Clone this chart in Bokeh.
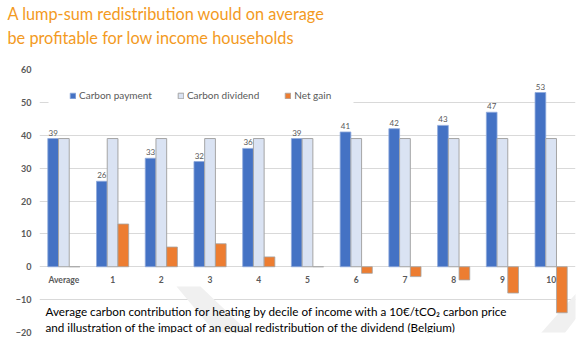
from bokeh.plotting import figure
from bokeh.models import (FactorRange, Range1d, FixedTicker, ColumnDataSource, Legend,
                          LegendItem, Label, PolyAnnotation, BoxAnnotation, Title)
from bokeh.transform import dodge
from bokeh.core.properties import value
from bokeh.embed import file_html
from bokeh.resources import INLINE

# ---- data ----
categories = ["Average", "1", "2", "3", "4", "5", "6", "7", "8", "9", "10"]
carbon_payment = [39, 26, 33, 32, 36, 39, 41, 42, 43, 47, 53]
carbon_dividend = [39, 39, 39, 39, 39, 39, 39, 39, 39, 39, 39]
net_gain = [0, 13, 6, 7, 3, 0, -2, -3, -4, -8, -14]
y_ticks = [-20, -10, 0, 10, 20, 30, 40, 50, 60]
series_names = ["Carbon payment", "Carbon dividend", "Net gain"]
title_lines = ["A lump-sum redistribution would on average",
               "be profitable for low income households"]
caption_lines = ["Average carbon contribution for heating by decile of income with a 10\u20ac/tCO\u2082 carbon price",
                 "and illustration of the impact of an equal redistribution of the dividend (Belgium)"]

FONT = "Lato"
TITLE_COLOR = "#F39A1E"

src = ColumnDataSource(dict(cat=categories, pay=carbon_payment, div=carbon_dividend,
                            net=net_gain, pay_lbl=[str(v) for v in carbon_payment]))

p = figure(width=580, height=341, x_range=FactorRange(*categories, range_padding=0),
           y_range=Range1d(-20, 60), output_backend="svg", toolbar_location=None,
           min_border_left=39, min_border_right=5, min_border_top=68, min_border_bottom=9)
p.outline_line_color = None
p.background_fill_color = "white"
p.border_fill_color = "white"

# title (two lines). "above" items stack outward from the frame; the main title goes outermost.
def title_line(text, standoff):
    return Title(text=text, align="left", offset=-32, standoff=standoff,
                 text_font=FONT, text_font_size="16.3px", text_font_style="normal",
                 text_line_height=1.0, text_color=TITLE_COLOR)

p.add_layout(Title(text=" ", text_font_size="1px", standoff=19), "above")  # spacer next to frame
p.add_layout(title_line(title_lines[1], 2), "above")
p.title = title_line(title_lines[0], 3)

# watermark stripes (background decoration)
p.add_layout(PolyAnnotation(xs=[176 - 39, 200 - 39, 258 - 39, 222 - 39],
                            ys=[332 - 286, 332 - 286, 332 - 341, 332 - 341],
                            xs_units="screen", ys_units="screen",
                            fill_color="#f0f0f0", fill_alpha=1, line_color=None, level="underlay"))
p.add_layout(PolyAnnotation(xs=[580 - 39, 580 - 39, 558 - 39, 533 - 39],
                            ys=[332 - 288, 332 - 312, 332 - 341, 332 - 341],
                            xs_units="screen", ys_units="screen",
                            fill_color="#f0f0f0", fill_alpha=1, line_color=None, level="underlay"))

# axes
p.xaxis.visible = False
p.yaxis.ticker = FixedTicker(ticks=y_ticks)
p.yaxis.axis_line_color = None
p.yaxis.major_tick_line_color = None
p.yaxis.minor_tick_line_color = None
p.yaxis.major_tick_out = 0
p.yaxis.major_label_standoff = 8
p.yaxis.major_label_text_font = FONT
p.yaxis.major_label_text_font_size = "9px"
p.yaxis.major_label_text_font_style = "bold"
p.yaxis.major_label_text_color = "#595959"
p.xgrid.grid_line_color = None
p.ygrid.grid_line_color = "#d9d9d9"
p.ygrid.ticker = FixedTicker(ticks=y_ticks)

w = 0.22
r1 = p.vbar(x=dodge("cat", -w, range=p.x_range), top="pay", bottom=0, width=w, source=src,
            fill_color="#4472C4", line_color="#8faadc", line_width=0.8)
r2 = p.vbar(x=dodge("cat", 0, range=p.x_range), top="div", bottom=0, width=w, source=src,
            fill_color="#DAE3F3", line_color="#a5a5a5", line_width=1)
r3 = p.vbar(x=dodge("cat", w, range=p.x_range), top="net", bottom=0, width=w, source=src,
            fill_color="#ED7D31", line_color="#a5a5a5", line_width=0.8)

# data labels on payment bars
p.text(x=dodge("cat", -w, range=p.x_range), y="pay", text="pay_lbl", source=src,
       text_align="center", text_baseline="bottom", y_offset=-3,
       text_font=value(FONT), text_font_size="8px", text_color="#595959")

# category labels
p.text(x="cat", y=0, text="cat", source=src, text_align="center", text_baseline="middle",
       y_offset=13, text_font=value(FONT), text_font_size="8.5px", text_font_style="bold",
       text_color="#595959")

# white legend box hiding the gridline behind the legend
p.add_layout(BoxAnnotation(left=48 - 39, right=353 - 39, bottom=332 - 110, top=332 - 86,
                           left_units="screen", right_units="screen",
                           bottom_units="screen", top_units="screen",
                           fill_color="white", fill_alpha=1, line_color=None))

legend = Legend(items=[LegendItem(label=series_names[0], renderers=[r1]),
                       LegendItem(label=series_names[1], renderers=[r2]),
                       LegendItem(label=series_names[2], renderers=[r3])],
                orientation="horizontal", location=(30, 231),
                padding=0, margin=0, spacing=25, label_standoff=3,
                glyph_width=7, glyph_height=7, label_height=12,
                label_text_font=FONT, label_text_font_size="10px", label_text_color="#595959",
                border_line_color=None, background_fill_color="white", background_fill_alpha=1)
p.add_layout(legend)

# caption lines
for t, cy in zip(caption_lines, [310, 326]):
    p.add_layout(Label(x=45 - 39, y=332 - cy, x_units="screen", y_units="screen",
                       text=t, text_font=FONT, text_font_size="11.7px", text_color="#000000",
                       text_baseline="middle", text_align="left"))

open("out.html", "w").write(file_html(p, INLINE))
